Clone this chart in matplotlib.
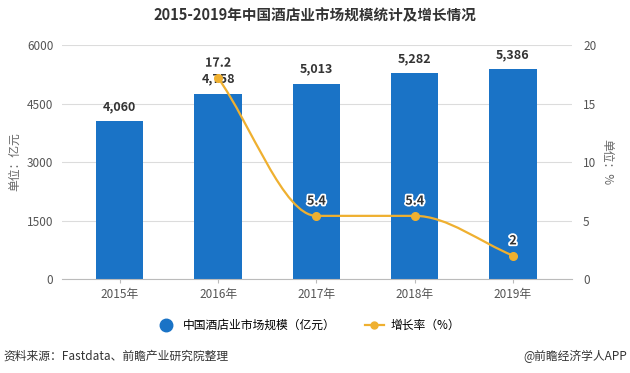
import matplotlib
matplotlib.use('Agg')
import matplotlib.pyplot as plt
import matplotlib.patheffects as pe
from matplotlib.path import Path
from matplotlib.patches import PathPatch
from matplotlib.lines import Line2D
import numpy as np

plt.rcParams['font.family'] = ['Noto Sans CJK SC', 'DejaVu Sans']

years = ['2015年', '2016年', '2017年', '2018年', '2019年']
market_size = [4060, 4758, 5013, 5282, 5386]
size_labels = ['4,060', '4,758', '5,013', '5,282', '5,386']
growth_idx = [1, 2, 3, 4]
growth = [17.2, 5.4, 5.4, 2]
growth_labels = ['17.2', '5.4', '5.4', '2']

bar_color = '#1a73c6'
line_color = '#efb030'
text_gray = '#555555'


def monotone_path(x, y):
    # smooth curve through the points (monotone cubic, as bezier segments)
    x = np.asarray(x, float)
    y = np.asarray(y, float)
    h = np.diff(x)
    d = np.diff(y) / h
    m = np.zeros_like(y)
    m[0], m[-1] = d[0], d[-1]
    for i in range(1, len(y) - 1):
        if d[i - 1] * d[i] <= 0:
            m[i] = 0
        else:
            m[i] = 2 / (1 / d[i - 1] + 1 / d[i])
    verts = [(x[0], y[0])]
    codes = [Path.MOVETO]
    for i in range(len(h)):
        verts += [(x[i] + h[i] / 3, y[i] + m[i] * h[i] / 3),
                  (x[i + 1] - h[i] / 3, y[i + 1] - m[i + 1] * h[i] / 3),
                  (x[i + 1], y[i + 1])]
        codes += [Path.CURVE4] * 3
    return Path(verts, codes)


fig = plt.figure(figsize=(6.3, 3.73), dpi=100)
ax = fig.add_axes([0.098, 0.252, 0.81, 0.627])
ax2 = ax.twinx()

x = np.arange(len(years))
ax.bar(x, market_size, width=0.48, color=bar_color, zorder=2)
for xi, v, lab in zip(x, market_size, size_labels):
    ax.text(xi, v + 200, lab, ha='center', va='bottom', fontsize=9,
            fontweight='bold', color='#333333', zorder=5)

ax.set_xlim(-0.59, 4.6)
ax.set_ylim(0, 6000)
ax.set_yticks([0, 1500, 3000, 4500, 6000])
ax.set_xticks(x)
ax.set_xticklabels(years)
ax.grid(axis='y', color='#dcdcdc', linewidth=0.8, zorder=0)
ax.set_axisbelow(True)
for s in ['top', 'right', 'left']:
    ax.spines[s].set_visible(False)
ax.spines['bottom'].set_color('#bbbbbb')
ax.tick_params(axis='y', length=0, labelsize=8.5, labelcolor=text_gray, pad=6)
ax.tick_params(axis='x', length=3, color='#bbbbbb', labelsize=8.5, labelcolor=text_gray)
ax.set_ylabel('单位：亿元', fontsize=8.5, color='#666666', labelpad=4)

ax2.set_ylim(0, 20)
ax2.set_yticks([0, 5, 10, 15, 20])
for s in ['top', 'right', 'left', 'bottom']:
    ax2.spines[s].set_visible(False)
ax2.tick_params(axis='y', length=0, labelsize=8.5, labelcolor=text_gray, pad=8)
ax2.set_ylabel('单位：%', fontsize=8.5, color='#666666', rotation=270, labelpad=12)

ax2.add_patch(PathPatch(monotone_path(growth_idx, growth), facecolor='none',
                        edgecolor=line_color, linewidth=1.6, zorder=3))
ax2.plot(growth_idx, growth, 'o', color=line_color, markersize=5.5, zorder=4)
for xi, v, lab in zip(growth_idx, growth, growth_labels):
    ax2.text(xi, v + 0.7, lab, ha='center', va='bottom', fontsize=9,
             fontweight='bold', color='#333333', zorder=6,
             path_effects=[pe.withStroke(linewidth=2.5, foreground='white')])

fig.text(0.5, 0.96, '2015-2019年中国酒店业市场规模统计及增长情况', ha='center',
         va='center', fontsize=10.5, fontweight='bold', color='#333333')

handles = [Line2D([], [], linestyle='none', marker='o', markersize=9, color=bar_color),
           Line2D([], [], color=line_color, marker='o', markersize=5, linewidth=1.6)]
fig.legend(handles, ['中国酒店业市场规模（亿元）', '增长率（%）'], loc='center',
           bbox_to_anchor=(0.49, 0.127), ncol=2, frameon=False, fontsize=8.5,
           handlelength=1.6, columnspacing=2.5, handletextpad=0.6)

fig.text(0.005, 0.045, '资料来源：Fastdata、前瞻产业研究院整理', ha='left', va='center',
         fontsize=8.5, color='#333333')
fig.text(0.995, 0.045, '@前瞻经济学人APP', ha='right', va='center',
         fontsize=8.5, color='#333333')

fig.savefig('out.png', dpi=100)
